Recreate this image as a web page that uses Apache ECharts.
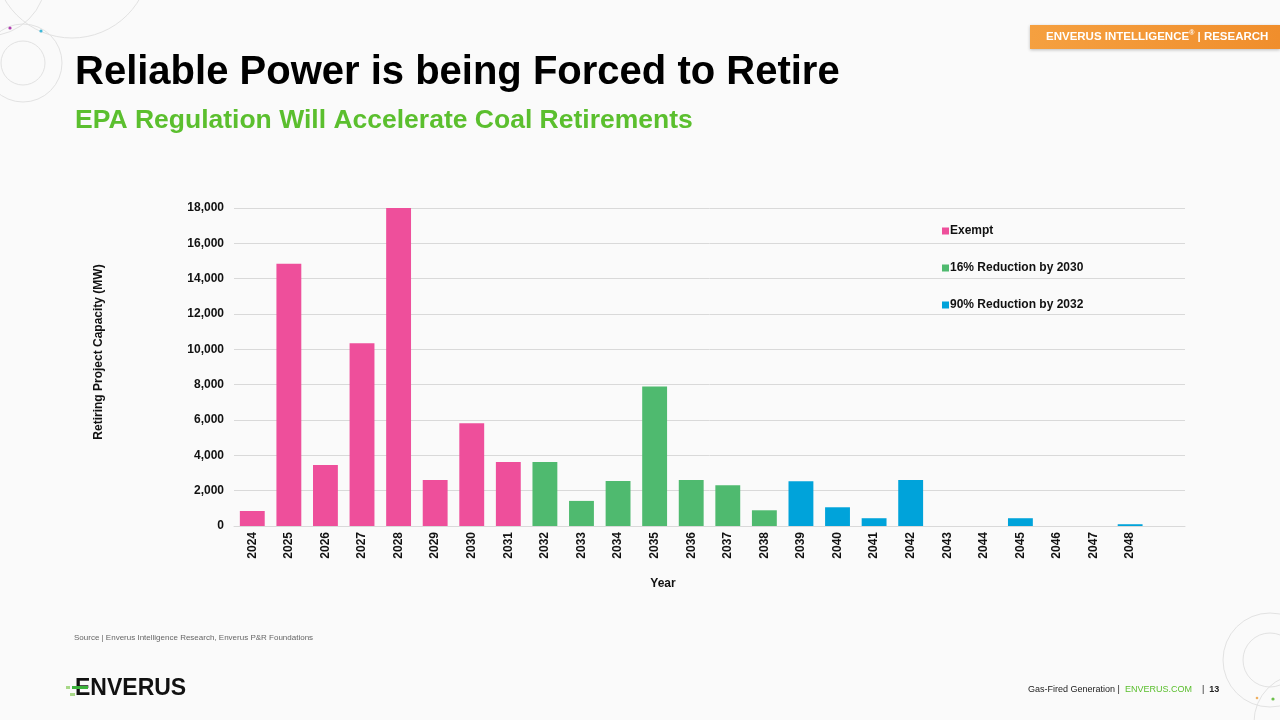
<!DOCTYPE html>
<html><head><meta charset="utf-8">
<script src="https://cdn.jsdelivr.net/npm/echarts@6/dist/echarts.min.js"></script>
<style>html,body{margin:0;padding:0;background:#fafafa;}#c{width:1280px;height:720px;}</style>
</head><body><div id="c"></div>
<script>
const years = ['2024','2025','2026','2027','2028','2029','2030','2031','2032','2033','2034','2035','2036','2037','2038','2039','2040','2041','2042','2043','2044','2045','2046','2047','2048',''];
const exempt    = [850,14850,3450,10350,18050,2600,5820,3620,null,null,null,null,null,null,null,null,null,null,null,null,null,null,null,null,null,null];
const reduce16  = [null,null,null,null,null,null,null,null,3620,1420,2550,7900,2600,2300,890,null,null,null,null,null,null,null,null,null,null,null];
const reduce90  = [null,null,null,null,null,null,null,null,null,null,null,null,null,null,null,2530,1060,440,2600,0,0,440,0,0,100,null];
const seriesNames = ['Exempt','16% Reduction by 2030','90% Reduction by 2032'];
const colors = ['#EE4F9B','#4FBA6F','#00A3DA'];

const chart = echarts.init(document.getElementById('c'));
const F = "'Liberation Sans', Arial, sans-serif";
const circ = (cx,cy,r,stroke)=>({type:'circle',shape:{cx,cy,r},style:{fill:'none',stroke:stroke||'#e2e2e2',lineWidth:1},silent:true});
chart.setOption({
  backgroundColor:'#fafafa',
  textStyle:{fontFamily:F},
  graphic:[
    circ(72,-40,78), circ(-12,-22,58), circ(23,63,39), circ(23,63,22),
    {type:'circle',shape:{cx:10,cy:28,r:1.6},style:{fill:'#b040b0'}},
    {type:'circle',shape:{cx:41,cy:31,r:1.6},style:{fill:'#40b8d8'}},
    circ(1270,660,47), circ(1270,660,27), circ(1302,722,48),
    {type:'circle',shape:{cx:1257,cy:698,r:1.3},style:{fill:'#f0b060'}},
    {type:'circle',shape:{cx:1273,cy:699,r:1.6},style:{fill:'#6cc04a'}},
    {type:'rect',shape:{x:1030,y:25,width:250,height:24},style:{fill:new echarts.graphic.LinearGradient(0,0,1,0,[{offset:0,color:'#F5A040'},{offset:1,color:'#F08E2C'}]),shadowBlur:3,shadowColor:'rgba(0,0,0,0.25)',shadowOffsetY:1}},
    {type:'text',left:1046,top:30,style:{rich:{a:{fill:'#fff',font:'bold 11.5px '+F},s:{fill:'#fff',font:'bold 7px '+F,verticalAlign:'top',padding:[0,0,6,0]}},text:'{a|ENVERUS INTELLIGENCE}{s|®}{a| | RESEARCH}'}},
    {type:'text',left:75,top:53,style:{text:'Reliable Power is being Forced to Retire',fill:'#000',font:'bold 40px '+F}},
    {type:'text',left:75,top:107,style:{text:'EPA Regulation Will Accelerate Coal Retirements',fill:'#5BBF2E',font:'bold 26.5px '+F}},
    {type:'text',left:74,top:634,style:{text:'Source | Enverus Intelligence Research, Enverus P&R Foundations',fill:'#666',font:'8px '+F}},
    {type:'text',x:99,y:352,rotation:Math.PI/2,style:{text:'Retiring Project Capacity (MW)',fill:'#111',font:'bold 12px '+F,align:'center',verticalAlign:'middle'}},
    {type:'text',x:663,y:584,style:{text:'Year',fill:'#111',font:'bold 12px '+F,align:'center',verticalAlign:'middle'}},
    {type:'rect',shape:{x:66,y:686,width:4,height:3},style:{fill:'#a8d888'}},
    {type:'rect',shape:{x:70,y:693,width:5,height:3},style:{fill:'#a8d888'}},
    {type:'text',left:75,top:677,style:{text:'ENVERUS',fill:'#111',font:'bold 23px '+F}},
    {type:'rect',shape:{x:72,y:686,width:16,height:3},style:{fill:'#3cb43c'}},
    {type:'text',left:1028,top:685,style:{rich:{a:{fill:'#222',font:'9px '+F},b:{fill:'#5BBF2E',font:'9px '+F},c:{fill:'#222',font:'bold 9px '+F}},text:'{a|Gas-Fired Generation |  }{b|ENVERUS.COM}{a|    |  }{c|13}'}}
  ],
  legend:{
    orient:'vertical', left:937, top:220, itemGap:25, itemWidth:7, itemHeight:7, icon:'rect',
    textStyle:{fontFamily:F,fontSize:12,fontWeight:'bold',color:'#111',padding:[0,0,0,-4]},
    data:seriesNames
  },
  grid:{left:234,right:95,top:208,bottom:194,containLabel:false},
  xAxis:{
    type:'category', data:years,
    axisLine:{lineStyle:{color:'#d9d9d9'}}, axisTick:{show:false},
    axisLabel:{rotate:90,interval:0,fontFamily:F,fontSize:12,fontWeight:'bold',color:'#111',margin:6}
  },
  yAxis:{
    type:'value', min:0, max:18000, interval:2000,
    splitLine:{lineStyle:{color:'#d9d9d9'}}, axisLine:{show:false},
    axisLabel:{fontFamily:F,fontSize:12,fontWeight:'bold',color:'#111',margin:10,
      formatter:v=>v.toLocaleString('en-US')}
  },
  series:[exempt,reduce16,reduce90].map((d,i)=>({
    name:seriesNames[i], type:'bar', stack:'a', data:d, barWidth:'68%',
    itemStyle:{color:colors[i]}, animation:false
  }))
});
</script></body></html>
